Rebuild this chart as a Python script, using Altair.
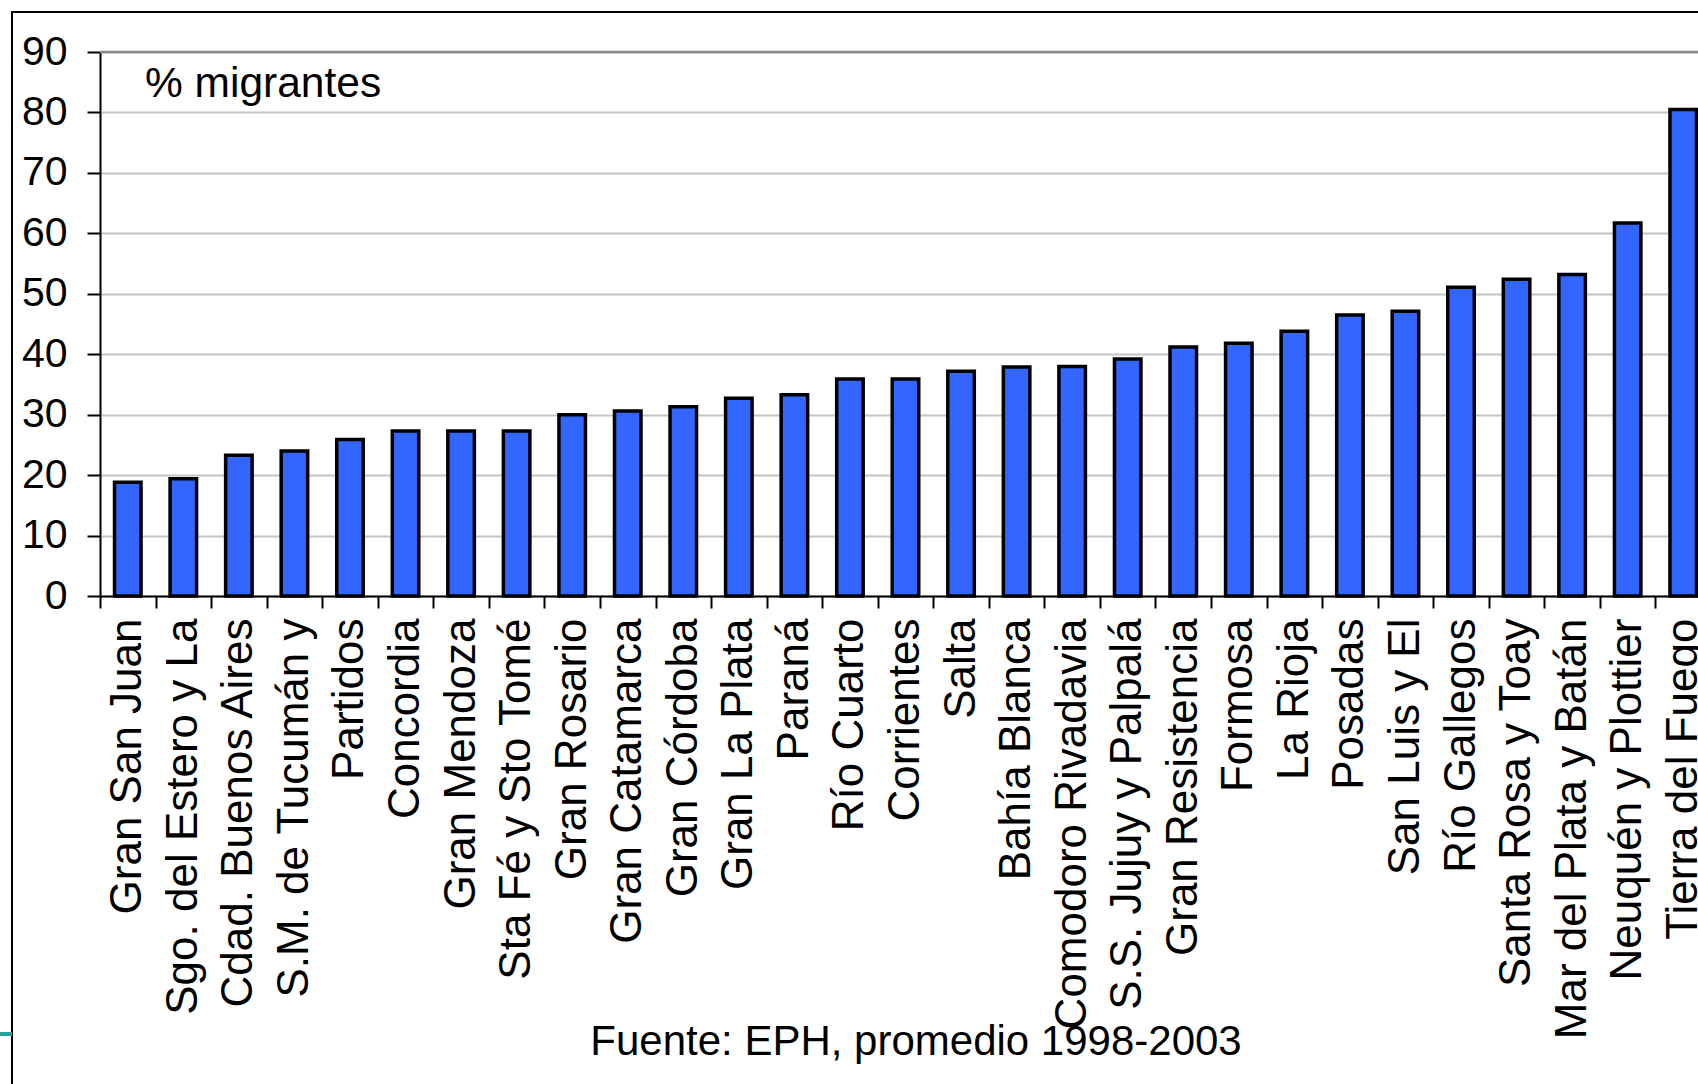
import altair as alt
import pandas as pd

categories = [
    "Gran San Juan", "Sgo. del Estero y La", "Cdad. Buenos Aires", "S.M. de Tucumán y",
    "Partidos", "Concordia", "Gran Mendoza", "Sta Fé y Sto Tomé", "Gran Rosario",
    "Gran Catamarca", "Gran Córdoba", "Gran La  Plata", "Paraná", "Río Cuarto",
    "Corrientes", "Salta", "Bahía Blanca", "Comodoro Rivadavia", "S.S. Jujuy y Palpalá",
    "Gran Resistencia", "Formosa", "La Rioja", "Posadas", "San Luis y El",
    "Río Gallegos", "Santa Rosa y Toay", "Mar del Plata y Batán", "Neuquén y Plottier",
    "Tierra del Fuego",
]
values = [
    18.8, 19.4, 23.3, 24.0, 25.9, 27.3, 27.3, 27.3, 30.0,
    30.6, 31.3, 32.7, 33.3, 35.9, 35.9, 37.2, 37.9, 37.95, 39.2,
    41.2, 41.8, 43.8, 46.5, 47.1, 51.1, 52.4, 53.2, 61.7, 80.5,
]
y_ticks = [0, 10, 20, 30, 40, 50, 60, 70, 80, 90]
inner_label = "% migrantes"
source_label = "Fuente: EPH, promedio 1998-2003"

df = pd.DataFrame({"ciudad": categories, "pct": values})

FONT = "Liberation Sans"
PLOT_W = 1598
PLOT_H = 544
RANGE_W = 1611

x_enc = alt.X(
    "ciudad:N", sort=None, title=None,
    scale=alt.Scale(range=[0, RANGE_W], paddingInner=0, paddingOuter=0),
    axis=alt.Axis(
        labelAngle=270, labelFontSize=44, labelFont=FONT, labelColor="black",
        labelPadding=10, tickSize=12, tickWidth=2, tickColor="black",
        domainColor="black", domainWidth=2, tickBand="extent", grid=False,
        labelOverlap=False, labelLimit=0,
    ),
)
y_scale = alt.Scale(domain=[0, 90], nice=False)
y_enc = alt.Y(
    "pct:Q", title=None, scale=y_scale,
    axis=alt.Axis(
        values=y_ticks, labelFontSize=41, labelFont=FONT, labelColor="black",
        labelPadding=20, tickSize=13, tickWidth=2, tickColor="black",
        domainColor="black", domainWidth=2, grid=True, gridColor="#c4c4c4",
        gridWidth=1.8,
    ),
)

bars = alt.Chart(df).mark_bar(
    color="#3366FF", stroke="black", strokeWidth=3.5,
    width=alt.RelativeBandSize(0.477),
).encode(x=x_enc, y=y_enc)

one = alt.Data(values=[{}])

top_line = alt.Chart(one).mark_rule(color="#888888", strokeWidth=2.5).encode(
    y=alt.datum(90, scale=y_scale),
    x=alt.value(0), x2=alt.value(PLOT_W + 20),
)

label_txt = alt.Chart(one).mark_text(
    align="left", baseline="alphabetic", font=FONT, fontSize=42.5, color="black"
).encode(x=alt.value(45), y=alt.value(45), text=alt.value(inner_label))

source_txt = alt.Chart(one).mark_text(
    align="center", baseline="alphabetic", font=FONT, fontSize=42, color="black"
).encode(x=alt.value(816), y=alt.value(1003), text=alt.value(source_label))

frame_top = alt.Chart(one).mark_rule(color="black", strokeWidth=2).encode(
    x=alt.value(-89), x2=alt.value(PLOT_W + 20), y=alt.value(-40)
)
frame_left = alt.Chart(one).mark_rule(color="black", strokeWidth=2).encode(
    x=alt.value(-88), y=alt.value(-41), y2=alt.value(1040)
)
teal = alt.Chart(one).mark_rule(color="#2a9d9d", strokeWidth=4).encode(
    x=alt.value(-100), x2=alt.value(-88), y=alt.value(982)
)

chart = alt.layer(
    top_line, bars, label_txt, source_txt, frame_top, frame_left, teal
).properties(
    width=PLOT_W, height=PLOT_H,
    autosize=alt.AutoSizeParams(type="none"),
    padding={"left": 100, "top": 52, "right": 0, "bottom": 488},
    background="white",
).configure_view(stroke=None)

chart.save("out.html", embed_options={"renderer": "svg", "actions": False})
